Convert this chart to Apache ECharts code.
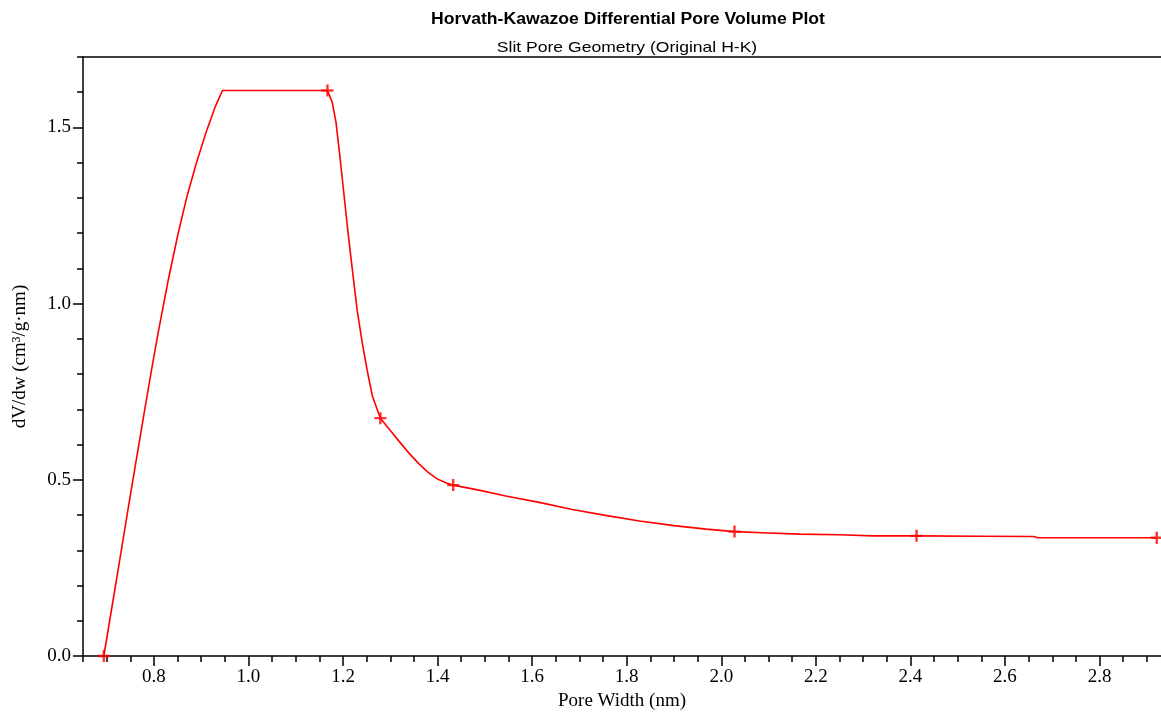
<!DOCTYPE html>
<html>
<head>
<meta charset="utf-8">
<title>Horvath-Kawazoe Differential Pore Volume Plot</title>
<script src="https://cdn.jsdelivr.net/npm/echarts@6/dist/echarts.min.js"></script>
<style>
  html, body { margin: 0; padding: 0; background: #fff; overflow: hidden; }
  #chart { width: 1161px; height: 716px; }
</style>
</head>
<body>
<div id="chart"></div>
<script>
// Pore width (nm) and differential pore volume dV/dw (cm3/g·nm) along the curve
const poreWidth = [0.694, 0.720, 0.750, 0.780, 0.796, 0.810, 0.830, 0.850, 0.870, 0.890,
  0.910, 0.930, 0.945, 1.167, 1.177, 1.185, 1.193, 1.202, 1.211, 1.220,
  1.230, 1.241, 1.251, 1.262, 1.279, 1.300, 1.320, 1.340, 1.360, 1.380,
  1.400, 1.420, 1.433, 1.490, 1.544, 1.615, 1.685, 1.755, 1.827, 1.900,
  1.968, 2.028, 2.087, 2.165, 2.250, 2.320, 2.413, 2.550, 2.660, 2.670,
  2.921];
const dVdw = [0.000, 0.210, 0.455, 0.695, 0.820, 0.925, 1.065, 1.192, 1.305, 1.400,
  1.485, 1.560, 1.605, 1.605, 1.572, 1.516, 1.422, 1.309, 1.196, 1.093,
  0.980, 0.886, 0.811, 0.738, 0.675, 0.640, 0.607, 0.575, 0.546, 0.521,
  0.502, 0.490, 0.485, 0.470, 0.454, 0.436, 0.416, 0.399, 0.383, 0.370,
  0.360, 0.353, 0.350, 0.346, 0.344, 0.341, 0.341, 0.340, 0.339, 0.3355,
  0.3355];

// Measured points marked with crosses
const markWidth = [0.694, 1.167, 1.279, 1.433, 2.028, 2.413, 2.921];
const markValue = [0.000, 1.605, 0.675, 0.485, 0.353, 0.341, 0.3355];

// Axis ticks
const xMajorTicks = [0.8, 1.0, 1.2, 1.4, 1.6, 1.8, 2.0, 2.2, 2.4, 2.6, 2.8];
const xMinorTicks = [0.65, 0.7, 0.75, 0.85, 0.9, 0.95, 1.05, 1.1, 1.15, 1.25, 1.3, 1.35,
  1.45, 1.5, 1.55, 1.65, 1.7, 1.75, 1.85, 1.9, 1.95, 2.05, 2.1, 2.15, 2.25, 2.3, 2.35,
  2.45, 2.5, 2.55, 2.65, 2.7, 2.75, 2.85, 2.9];
const yMajorTicks = [0.0, 0.5, 1.0, 1.5];
const yMinorTicks = [0.1, 0.2, 0.3, 0.4, 0.6, 0.7, 0.8, 0.9, 1.1, 1.2, 1.3, 1.4, 1.6, 1.7];

const titleText = 'Horvath-Kawazoe Differential Pore Volume Plot';
const subtitleText = 'Slit Pore Geometry (Original H-K)';
const xName = 'Pore Width (nm)';
const yName = 'dV/dw (cm\u00b3/g\u00b7nm)';

const serif = '"Liberation Serif", "DejaVu Serif", serif';
const sans = '"Liberation Sans", Arial, sans-serif';
const plusPath = 'path://M4.8,0h2.4v4.8h4.8v2.4h-4.8v4.8h-2.4v-4.8h-4.8v-2.4h4.8z';

const lineData = poreWidth.map((w, i) => [w, dVdw[i]]);
const markData = markWidth.map((w, i) => [w, markValue[i]]);

const xMin = 0.65, xMax = 2.93, yMin = 0, yMax = 1.7;

const chart = echarts.init(document.getElementById('chart'), null, { renderer: 'canvas' });
chart.setOption({
  animation: false,
  backgroundColor: '#ffffff',
  // Heading and subheading, widened slightly to the plot's lettering
  graphic: [
    { type: 'text', x: 628, y: 20, scaleX: 1.1, silent: true,
      style: { text: titleText, fontFamily: sans, fontSize: 16, fontWeight: 'bold',
        fill: '#000', align: 'center', verticalAlign: 'middle' } },
    { type: 'text', x: 627, y: 48, scaleX: 1.17, silent: true,
      style: { text: subtitleText, fontFamily: sans, fontSize: 15, fontWeight: 'normal',
        fill: '#000', align: 'center', verticalAlign: 'middle' } }
  ],
  grid: { left: 83, width: 1078, top: 57, height: 604, containLabel: false },
  xAxis: [
    { type: 'value', min: xMin, max: xMax, position: 'bottom',
      name: xName, nameLocation: 'middle', nameGap: 36,
      nameTextStyle: { fontFamily: serif, fontSize: 19, color: '#000' },
      axisLine: { show: true, onZero: false, lineStyle: { color: '#000', width: 1.5 } },
      axisTick: { show: true, inside: false, length: 10, customValues: xMajorTicks,
        lineStyle: { color: '#000', width: 1.5 } },
      axisLabel: { show: true, customValues: xMajorTicks, margin: 12,
        fontFamily: serif, fontSize: 19, color: '#000',
        formatter: v => v.toFixed(1) },
      splitLine: { show: false } },
    { type: 'value', min: xMin, max: xMax, position: 'bottom',
      axisLine: { show: false, onZero: false },
      axisTick: { show: true, inside: false, length: 6, customValues: xMinorTicks,
        lineStyle: { color: '#000', width: 1.5 } },
      axisLabel: { show: false }, splitLine: { show: false } },
    { type: 'value', min: xMin, max: xMax, position: 'top',
      axisLine: { show: true, onZero: false, lineStyle: { color: '#000', width: 1.5 } },
      axisTick: { show: false }, axisLabel: { show: false }, splitLine: { show: false } }
  ],
  yAxis: [
    { type: 'value', min: yMin, max: yMax, position: 'left',
      name: yName, nameLocation: 'middle', nameGap: 53, nameRotate: 90,
      nameTextStyle: { fontFamily: serif, fontSize: 19, color: '#000' },
      axisLine: { show: true, onZero: false, lineStyle: { color: '#000', width: 1.5 } },
      axisTick: { show: true, inside: false, length: 10, customValues: yMajorTicks,
        lineStyle: { color: '#000', width: 1.5 } },
      axisLabel: { show: true, customValues: yMajorTicks, margin: 12,
        fontFamily: serif, fontSize: 19, color: '#000',
        formatter: v => v.toFixed(1) },
      splitLine: { show: false } },
    { type: 'value', min: yMin, max: yMax, position: 'left',
      axisLine: { show: false, onZero: false },
      axisTick: { show: true, inside: false, length: 6, customValues: yMinorTicks,
        lineStyle: { color: '#000', width: 1.5 } },
      axisLabel: { show: false }, splitLine: { show: false } }
  ],
  series: [
    { type: 'line', xAxisIndex: 0, yAxisIndex: 0, data: lineData,
      showSymbol: false, symbol: 'none', smooth: false, clip: false,
      lineStyle: { color: '#ff0000', width: 1.6 } },
    { type: 'scatter', xAxisIndex: 0, yAxisIndex: 0, data: markData,
      symbol: plusPath, symbolSize: 12, clip: false,
      itemStyle: { color: '#ff0000' } }
  ]
});
</script>
</body>
</html>
